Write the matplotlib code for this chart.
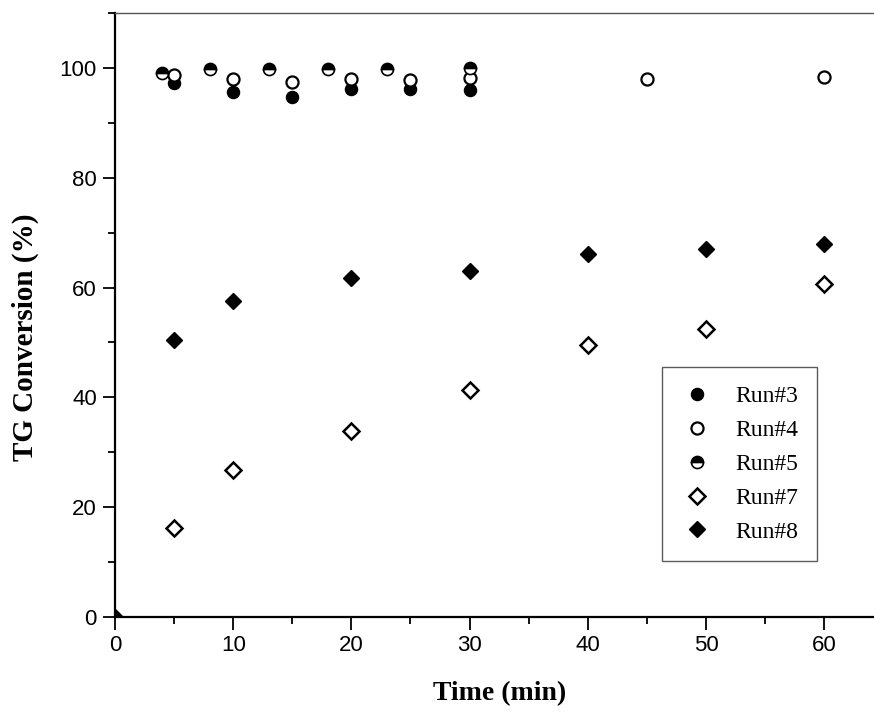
import matplotlib
matplotlib.use("Agg")
import matplotlib.pyplot as plt
from matplotlib.ticker import MultipleLocator

# TG conversion vs. reaction time for each run
run3_t = [5, 10, 15, 20, 25, 30]
run3_y = [97.2, 95.6, 94.7, 96.2, 96.2, 96.0]

run4_t = [5, 10, 15, 20, 25, 30, 45, 60]
run4_y = [98.7, 97.9, 97.5, 97.9, 97.8, 98.1, 97.9, 98.4]

run5_t = [4, 8, 13, 18, 23, 30]
run5_y = [99.0, 99.8, 99.8, 99.8, 99.8, 99.9]

run7_t = [5, 10, 20, 30, 40, 50, 60]
run7_y = [16.3, 26.7, 33.9, 41.3, 49.5, 52.5, 60.7]

run8_t = [0, 5, 10, 20, 30, 40, 50, 60]
run8_y = [0, 50.5, 57.5, 61.8, 63.0, 66.2, 67.1, 68.0]

x_ticks = [0, 10, 20, 30, 40, 50, 60]
y_ticks = [0, 20, 40, 60, 80, 100]

fig = plt.figure(figsize=(8.74, 7.12), dpi=100)
ax = fig.add_axes([0.1316, 0.1334, 0.879, 0.8483])

ms_c = 8.7
ax.plot(run3_t, run3_y, 'o', ms=ms_c, mec='black', mfc='black', label='Run#3')
ax.plot(run4_t, run4_y, 'o', ms=ms_c, mec='black', mfc='white', mew=1.6, label='Run#4')
ax.plot(run5_t, run5_y, 'o', ms=ms_c, mec='black', mfc='black', mfcalt='white',
        fillstyle='top', mew=1.2, label='Run#5')
ax.plot(run7_t, run7_y, 'D', ms=7.8, mec='black', mfc='white', mew=1.8, label='Run#7')
ax.plot(run8_t, run8_y, 'D', ms=8.3, mec='black', mfc='black', label='Run#8')

ax.set_xlim(0, 65)
ax.set_ylim(0, 110)
ax.set_xticks(x_ticks)
ax.set_yticks(y_ticks)
ax.xaxis.set_minor_locator(MultipleLocator(5))
ax.yaxis.set_minor_locator(MultipleLocator(10))

ax.tick_params(which='major', direction='out', length=9, width=1.3,
               labelsize=16, pad=4)
ax.tick_params(which='minor', direction='out', length=5, width=1.3)
for lbl in ax.get_xticklabels() + ax.get_yticklabels():
    lbl.set_fontfamily('Liberation Sans')

for side in ('left', 'bottom'):
    ax.spines[side].set_linewidth(1.6)
    ax.spines[side].set_color('black')
ax.spines['top'].set_linewidth(1.0)
ax.spines['top'].set_color('#555555')
ax.spines['right'].set_visible(False)

ax.set_xlabel('Time (min)', fontfamily='Liberation Serif', fontweight='bold',
              fontsize=20, labelpad=18)
ax.set_ylabel('TG Conversion (%)', fontfamily='Liberation Serif', fontweight='bold',
              fontsize=21)
ax.yaxis.set_label_coords(-0.099, 0.4636)

leg = ax.legend(loc='upper left', bbox_to_anchor=(0.712, 0.414),
                prop={'family': 'Liberation Serif', 'size': 17},
                frameon=True, fancybox=False, edgecolor='#333333',
                borderpad=0.8, labelspacing=0.52, handlelength=1.4,
                handletextpad=0.9, borderaxespad=0)
leg.get_frame().set_linewidth(1.0)

fig.savefig('out.png', dpi=100)
